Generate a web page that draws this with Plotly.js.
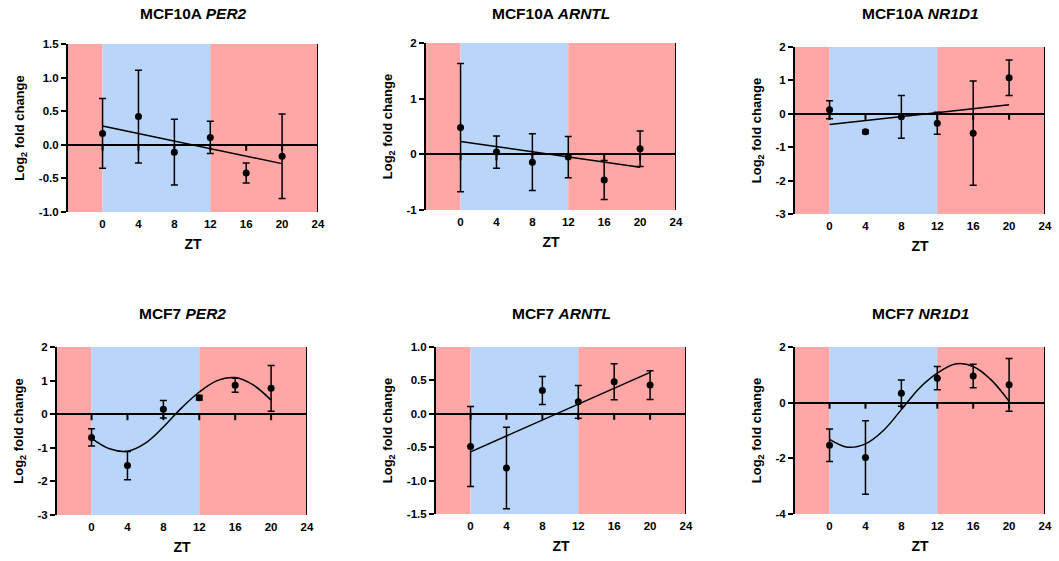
<!DOCTYPE html>
<html>
<head>
<meta charset="utf-8">
<script src="https://cdn.plot.ly/plotly-3.0.1.min.js"></script>
<style>html,body{margin:0;padding:0;background:#fff;}#chart{width:1059px;height:561px;}</style>
</head>
<body>
<div id="chart"></div>
<script>
// ---------- data ----------
const zt = [0, 4, 8, 12, 16, 20];
const xTicks = [0, 4, 8, 12, 16, 20, 24];
const fitLinT = [0, 20];
const fitSinT = [0, 2, 4, 6, 8, 10, 12, 14, 16, 18, 20];

const mcf10aPer2Mean = [0.17, 0.42, -0.11, 0.11, -0.42, -0.17];
const mcf10aPer2Err  = [0.52, 0.69, 0.49, 0.24, 0.15, 0.63];
const mcf10aPer2Fit  = [0.28, -0.28];

const mcf10aArntlMean = [0.48, 0.04, -0.14, -0.05, -0.46, 0.10];
const mcf10aArntlErr  = [1.15, 0.29, 0.51, 0.37, 0.35, 0.32];
const mcf10aArntlFit  = [0.23, -0.23];

const mcf10aNr1d1Mean = [0.12, -0.54, -0.09, -0.28, -0.58, 1.08];
const mcf10aNr1d1Err  = [0.27, 0.05, 0.64, 0.33, 1.56, 0.53];
const mcf10aNr1d1Fit  = [-0.32, 0.27];

const mcf7Per2Mean = [-0.69, -1.53, 0.15, 0.49, 0.86, 0.77];
const mcf7Per2Err  = [0.26, 0.42, 0.26, 0.07, 0.21, 0.68];
const mcf7Per2Fit  = [-0.72, -1.03, -1.10, -0.86, -0.38, 0.18, 0.66, 1.00, 1.09, 0.87, 0.42];

const mcf7ArntlMean = [-0.49, -0.81, 0.35, 0.18, 0.48, 0.43];
const mcf7ArntlErr  = [0.60, 0.61, 0.21, 0.245, 0.27, 0.215];
const mcf7ArntlFit  = [-0.57, 0.62];

const mcf7Nr1d1Mean = [-1.53, -1.97, 0.34, 0.88, 0.96, 0.64];
const mcf7Nr1d1Err  = [0.58, 1.32, 0.47, 0.42, 0.42, 0.95];
const mcf7Nr1d1Fit  = [-1.32, -1.60, -1.48, -1.00, -0.25, 0.52, 1.06, 1.39, 1.30, 0.82, 0.05];

const titles = ["MCF10A <i>PER2</i>", "MCF10A <i>ARNTL</i>", "MCF10A <i>NR1D1</i>",
                "MCF7 <i>PER2</i>", "MCF7 <i>ARNTL</i>", "MCF7 <i>NR1D1</i>"];
const xTitle = "ZT";
const yTitle = "Log<sub>2</sub> fold change";

const yTickVals = [
  [-1.0, -0.5, 0, 0.5, 1.0, 1.5],
  [-1, 0, 1, 2],
  [-3, -2, -1, 0, 1, 2],
  [-3, -2, -1, 0, 1, 2],
  [-1.5, -1.0, -0.5, 0, 0.5, 1.0],
  [-4, -2, 0, 2]
];
const yTickText = [
  ["-1.0", "-0.5", "0.0", "0.5", "1.0", "1.5"],
  ["-1", "0", "1", "2"],
  ["-3", "-2", "-1", "0", "1", "2"],
  ["-3", "-2", "-1", "0", "1", "2"],
  ["-1.5", "-1.0", "-0.5", "0.0", "0.5", "1.0"],
  ["-4", "-2", "0", "2"]
];
const lightOn = 0, lightOff = 12, dayEnd = 24;

// ---------- layout geometry (pixels) ----------
const W = 1059, H = 561;
const boxes = [ // [left, right, top, bottom]
  [68, 318, 44, 212],
  [426, 676, 43, 210],
  [795, 1045, 47, 214],
  [57, 307, 347, 515],
  [436, 686, 347, 514],
  [795, 1045, 347, 514]
];
const titleY = [13, 13, 13, 313, 313, 313];
const xMin = -3.85;

const panels = [
  {mean: mcf10aPer2Mean, err: mcf10aPer2Err, fitT: fitLinT, fit: mcf10aPer2Fit, shape: 'linear'},
  {mean: mcf10aArntlMean, err: mcf10aArntlErr, fitT: fitLinT, fit: mcf10aArntlFit, shape: 'linear'},
  {mean: mcf10aNr1d1Mean, err: mcf10aNr1d1Err, fitT: fitLinT, fit: mcf10aNr1d1Fit, shape: 'linear'},
  {mean: mcf7Per2Mean, err: mcf7Per2Err, fitT: fitSinT, fit: mcf7Per2Fit, shape: 'spline'},
  {mean: mcf7ArntlMean, err: mcf7ArntlErr, fitT: fitLinT, fit: mcf7ArntlFit, shape: 'linear'},
  {mean: mcf7Nr1d1Mean, err: mcf7Nr1d1Err, fitT: fitSinT, fit: mcf7Nr1d1Fit, shape: 'spline'}
];

const FONT = "Liberation Sans, Arial, Helvetica, sans-serif";
const RED = "#FFA6A6", BLUE = "#B9D5FA";

const traces = [];
const layout = {
  width: W, height: H,
  margin: {l: 0, r: 0, t: 0, b: 0},
  paper_bgcolor: "#fff", plot_bgcolor: "#fff",
  showlegend: false,
  font: {family: FONT, color: "#000"},
  shapes: [], annotations: []
};

panels.forEach((p, i) => {
  const n = i + 1;
  const xa = n === 1 ? 'x' : 'x' + n;
  const ya = n === 1 ? 'y' : 'y' + n;
  const xKey = n === 1 ? 'xaxis' : 'xaxis' + n;
  const yKey = n === 1 ? 'yaxis' : 'yaxis' + n;
  const b = boxes[i];
  const tv = yTickVals[i];
  const yr = [tv[0], tv[tv.length - 1]];

  layout[xKey] = {
    domain: [b[0] / W, b[1] / W], anchor: ya,
    range: [xMin, dayEnd], fixedrange: true,
    showgrid: false, zeroline: false, showline: false, ticks: '',
    tickvals: xTicks, ticktext: xTicks.map(String),
    tickfont: {family: FONT, size: 11.5, color: '#000', weight: 'bold'},
    ticklabelstandoff: 3,
    title: {text: xTitle, font: {family: FONT, size: 14, color: '#000', weight: 'bold'}, standoff: 10}
  };
  layout[yKey] = {
    domain: [1 - b[3] / H, 1 - b[2] / H], anchor: xa,
    range: yr, fixedrange: true,
    showgrid: false, zeroline: true, zerolinecolor: '#000', zerolinewidth: 2,
    showline: true, linecolor: '#000', linewidth: 2,
    ticks: 'outside', ticklen: 5, tickwidth: 2, tickcolor: '#000',
    tickvals: tv, ticktext: yTickText[i],
    tickfont: {family: FONT, size: 11.5, color: '#000', weight: 'bold'},
    title: {text: yTitle, font: {family: FONT, size: 13, color: '#000', weight: 'bold'}, standoff: 11}
  };

  // background zones
  layout.shapes.push(
    {type: 'rect', xref: xa, yref: ya + ' domain', x0: xMin, x1: lightOn, y0: 0, y1: 1, fillcolor: RED, line: {width: 0}, layer: 'below'},
    {type: 'rect', xref: xa, yref: ya + ' domain', x0: lightOn, x1: lightOff, y0: 0, y1: 1, fillcolor: BLUE, line: {width: 0}, layer: 'below'},
    {type: 'rect', xref: xa, yref: ya + ' domain', x0: lightOff, x1: dayEnd, y0: 0, y1: 1, fillcolor: RED, line: {width: 0}, layer: 'below'},
    {type: 'line', xref: xa, yref: ya + ' domain', x0: dayEnd, x1: dayEnd, y0: 0, y1: 1, line: {color: '#000', width: 2}, layer: 'above'}
  );
  // x ticks hanging from the zero line
  xTicks.forEach(t => {
    layout.shapes.push({type: 'line', xref: xa, yref: ya, x0: t, x1: t,
      ysizemode: 'pixel', yanchor: 0, y0: 0, y1: -6,
      line: {color: '#000', width: 2}, layer: 'above'});
  });

  // subplot title
  layout.annotations.push({
    text: titles[i], xref: 'paper', yref: 'paper',
    x: (b[0] + b[1]) / 2 / W, y: 1 - titleY[i] / H,
    xanchor: 'center', yanchor: 'middle', showarrow: false,
    font: {family: FONT, size: 15.5, color: '#000', weight: 'bold'}
  });

  // fit line
  traces.push({
    type: 'scatter', mode: 'lines', x: p.fitT, y: p.fit, xaxis: xa, yaxis: ya,
    line: {color: '#000', width: 1.5, shape: p.shape, smoothing: 1.0}, hoverinfo: 'skip'
  });
  // mean ± error
  traces.push({
    type: 'scatter', mode: 'markers', x: zt, y: p.mean, xaxis: xa, yaxis: ya,
    marker: {color: '#000', size: 7},
    error_y: {type: 'data', array: p.err, visible: true, color: '#000', thickness: 1.5, width: 3.5}
  });
});

Plotly.newPlot('chart', traces, layout, {staticPlot: true, displayModeBar: false});
</script>
</body>
</html>
